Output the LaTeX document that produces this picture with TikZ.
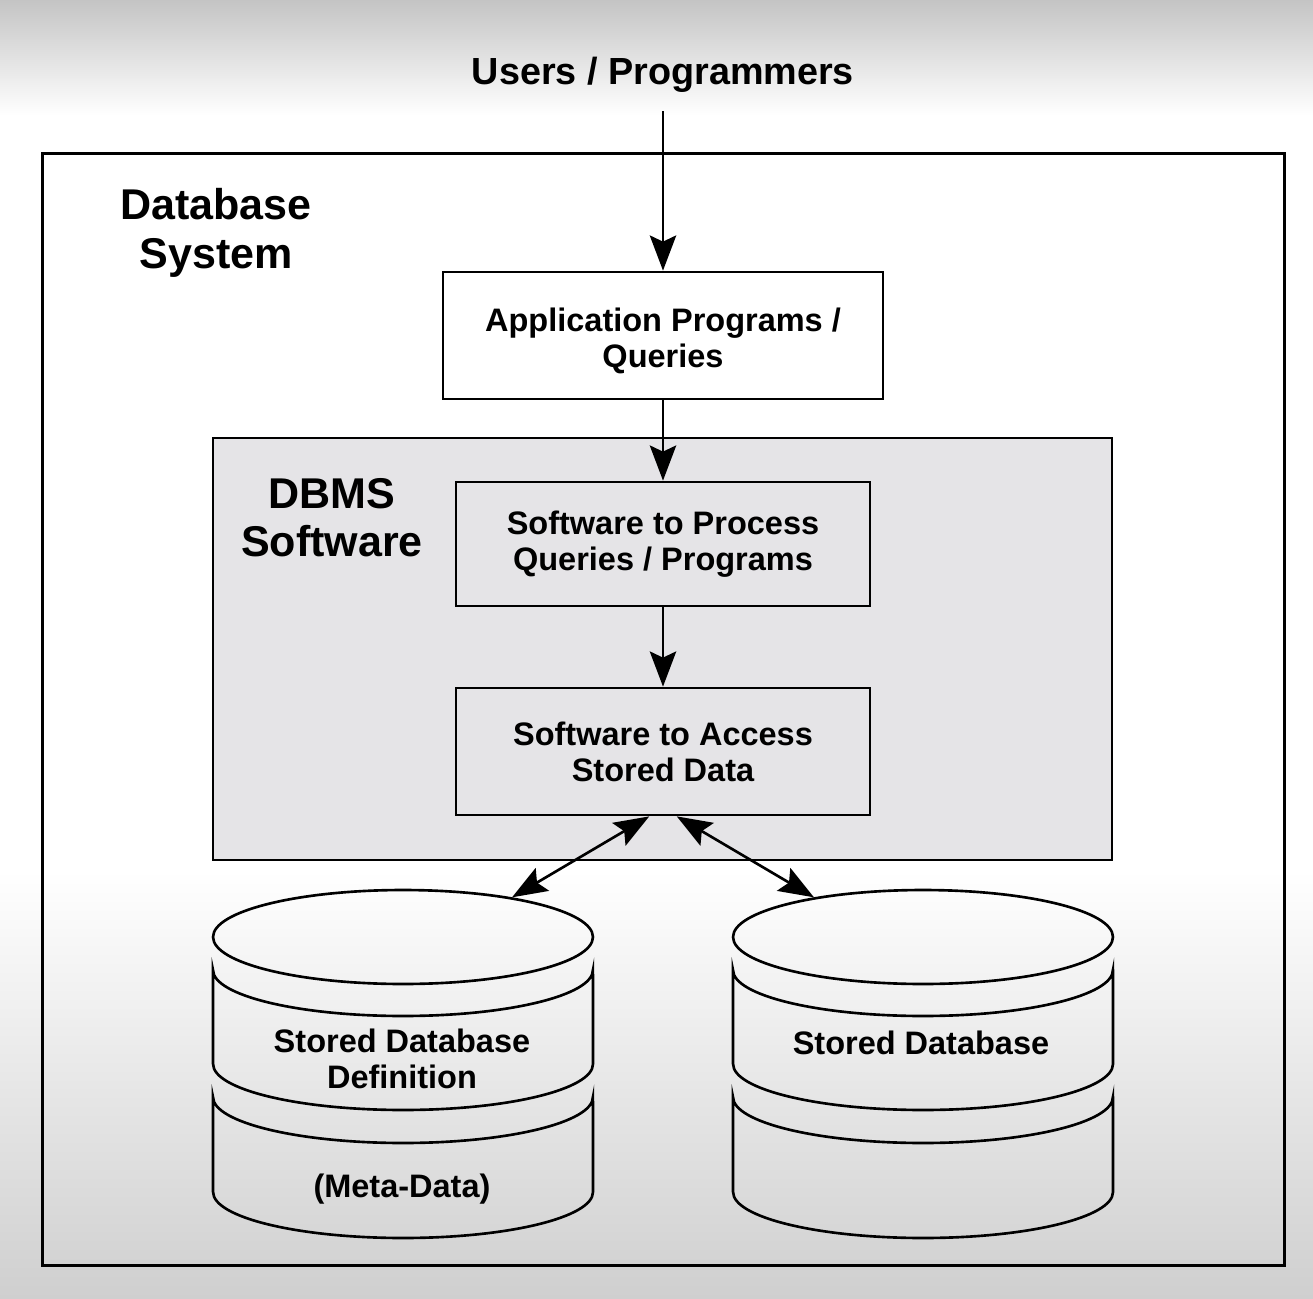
\documentclass[tikz,border=0pt]{standalone}
\usepackage{fontspec}
\setmainfont{Liberation Sans}
\usetikzlibrary{arrows.meta,shapes.geometric}
\definecolor{bgtop}{HTML}{C4C4C4}
\definecolor{bgbot}{HTML}{CFCFCF}
\definecolor{dbgray}{HTML}{E5E4E7}
\newcommand\txtS{\bfseries\fontsize{18.5}{20.5}\selectfont}
\newcommand\txtL{\bfseries\fontsize{24.5}{27.5}\selectfont}
\newcommand\txtU{\bfseries\fontsize{21.5}{24}\selectfont}
\begin{document}
\begin{tikzpicture}[x=0.02cm,y=-0.02cm,
  lw/.style={line width=1.6pt},
  thin lw/.style={line width=1.5pt},
  boxstyle/.style={draw, lw, rectangle, inner sep=0pt, align=center, font=\txtS},
  tipA/.tip={Stealth[length=20pt,width=15pt,inset=3.5pt]},
  arr/.style={thin lw, -tipA},
  darr/.style={thin lw, tipA-tipA},
  cyl/.style={draw, thin lw}
]
\useasboundingbox (0,0) rectangle (1313,1299);
\fill[white] (0,0) rectangle (1313,1299);
\shade[top color=bgtop, bottom color=white] (0,0) rectangle (1313,115);
\shade[top color=white, bottom color=bgbot] (0,870) rectangle (1313,1299);

% outer system box
\node[draw, lw, minimum width=24.86cm, minimum height=22.26cm, inner sep=0pt] (system) at (663.5,709.5) {};
\node[font=\txtL, align=center] (systemlabel) at (216,233) {Database\\System};

% users
\node[font=\txtU] (users) at (663,75) {Users / Programmers};

% DBMS area
\node[draw, lw, fill=dbgray, minimum width=17.98cm, minimum height=8.44cm, inner sep=0pt] (dbms) at (662.5,649) {};
\node[font=\txtL, align=center] (dbmslabel) at (332,518) {DBMS\\Software};

\node[boxstyle, fill=white, minimum width=8.8cm, minimum height=2.54cm] (app) at (663,335.5) {};
\node[font=\txtS, align=center] (apptext) at (663,341) {Application Programs /\\Queries};
\node[boxstyle, fill=dbgray, minimum width=8.28cm, minimum height=2.48cm] (process) at (663,544) {Software to Process\\Queries / Programs};
\node[boxstyle, fill=dbgray, minimum width=8.28cm, minimum height=2.54cm] (access) at (663,751.5) {Software to Access\\Stored Data};

\draw[arr, shorten <=7pt] (users.south) -- (app.north);
\draw[arr] (app.south) -- (process.north);
\draw[arr] (process.south) -- (access.north);

% cylinders
\foreach \cx/\nm in {403/lcyl, 923/rcyl}{
  \node[ellipse, draw, thin lw, minimum width=7.6cm, minimum height=1.88cm, inner sep=0pt] (\nm) at (\cx,937) {};
  \foreach \ya/\yb in {970/1064, 1097/1192}{
    \draw[cyl] (\cx-190,\yb) -- (\cx-190,\ya)
      arc[start angle=180, end angle=360, x radius=3.8cm, y radius=0.92cm]
      -- (\cx+190,\yb)
      arc[start angle=0, end angle=-180, x radius=3.8cm, y radius=0.92cm];
  }
}

\node[font=\txtS, align=center] (ldef) at (402,1059) {Stored Database\\Definition};
\node[font=\txtS] (meta) at (402,1189) {(Meta-Data)};
\node[font=\txtS] (rdb) at (921,1043) {Stored Database};

\draw[darr] (access.258) -- (lcyl.20);
\draw[darr] (access.282) -- (rcyl.160);
\end{tikzpicture}
\end{document}
